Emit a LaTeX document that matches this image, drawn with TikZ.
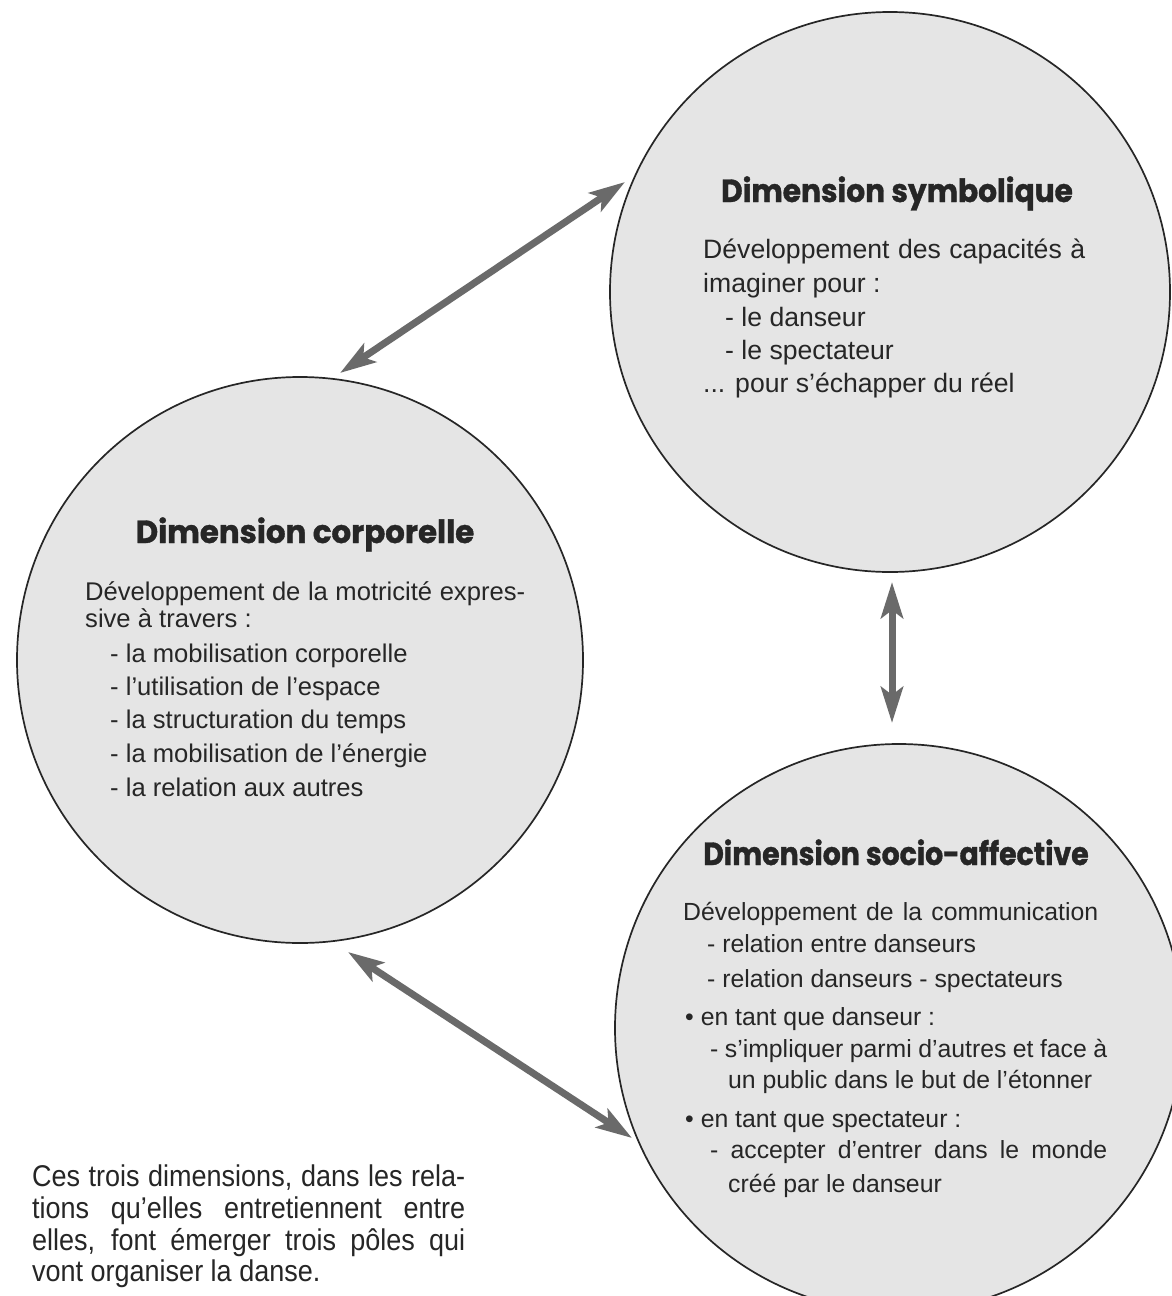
\documentclass[tikz,border=0pt]{standalone}
\usepackage{fontspec}
\setmainfont{Liberation Sans}
\newfontfamily\titlefont{Poppins}[BoldFeatures={FakeBold=1.2}]
\newfontfamily\narrowfont{Liberation Sans}[FakeStretch=0.9]
\usetikzlibrary{arrows.meta}
\definecolor{ink}{HTML}{262626}
\definecolor{discfill}{HTML}{E5E5E5}
\definecolor{arrowgray}{HTML}{6A6A6A}
\begin{document}
\begin{tikzpicture}[x=1pt,y=-1pt,
  disc/.style={circle, draw=ink, line width=1.7pt, fill=discfill, minimum size=#1, inner sep=0pt, outer sep=0pt},
  dimtitle/.style={anchor=base, inner sep=0pt, text=ink, font=\titlefont\bfseries\fontsize{32}{32}\selectfont},
  symbody/.style={anchor=base west, inner sep=0pt, text=ink, font=\fontsize{26.6}{26.6}\selectfont},
  corpbody/.style={anchor=base west, inner sep=0pt, text=ink, font=\fontsize{25.6}{25.6}\selectfont},
  sociobody/.style={anchor=base west, inner sep=0pt, text=ink, font=\fontsize{24.8}{24.8}\selectfont},
  note/.style={anchor=base west, inner sep=0pt, text=ink, font=\narrowfont\fontsize{30}{30}\selectfont},
  link/.style={draw=arrowgray, line width=7pt, {Stealth[length=36pt,width=22pt,inset=8pt]}-{Stealth[length=36pt,width=22pt,inset=8pt]}}
]
\useasboundingbox (0,0) rectangle (1172,1296);
\clip (0,0) rectangle (1172,1296);
\fill[white] (0,0) rectangle (1172,1296);

% circles
\node[disc=560] (sym) at (890,292) {};
\node[disc=566] (corp) at (300,660) {};
\node[disc=568] (socio) at (899,1028) {};

% connectors
\coordinate (a1c) at (340,373);
\coordinate (a1s) at (625,182);
\coordinate (a2s) at (892,582);
\coordinate (a2o) at (892,723);
\coordinate (a3c) at (348,952);
\coordinate (a3o) at (632,1138);
\draw[link] (a1c) -- (a1s);
\draw[link] (a2s) -- (a2o);
\draw[link] (a3c) -- (a3o);

% symbolique
\node[dimtitle] (symT) at (897,202) {\scalebox{0.926}[1]{Dimension symbolique}};
\node[symbody] (s1) at (703,258) {\makebox[382pt][s]{Développement des capacités à}};
\node[symbody] (s2) at (703,292) {imaginer pour :};
\node[symbody] (s3) at (725,326) {- le danseur};
\node[symbody] (s4) at (725,359) {- le spectateur};
\node[symbody] (s5) at (703,392) {... pour s’échapper du réel};

% corporelle
\node[dimtitle] (corpT) at (305,543) {\scalebox{0.963}[1]{Dimension corporelle}};
\node[corpbody] (c1) at (85,600) {\makebox[440pt][s]{Développement de la motricité expres-}};
\node[corpbody] (c2) at (85,627) {sive à travers :};
\node[corpbody] (c3) at (110,662) {- la mobilisation corporelle};
\node[corpbody] (c4) at (110,695) {- l’utilisation de l’espace};
\node[corpbody] (c5) at (110,728) {- la structuration du temps};
\node[corpbody] (c6) at (110,762) {- la mobilisation de l’énergie};
\node[corpbody] (c7) at (110,796) {- la relation aux autres};

% socio-affective
\node[dimtitle] (socioT) at (896,865) {\scalebox{0.884}[1]{Dimension socio-affective}};
\node[sociobody] (p1) at (683,920) {\makebox[415pt][s]{Développement de la communication}};
\node[sociobody] (p2) at (707,952) {- relation entre danseurs};
\node[sociobody] (p3) at (707,987) {- relation danseurs - spectateurs};
\node[sociobody] (p4) at (685,1025) {• en tant que danseur :};
\node[sociobody] (p5) at (710,1057) {\makebox[397pt][s]{- s’impliquer parmi d’autres et face à}};
\node[sociobody] (p6) at (728,1088) {un public dans le but de l’étonner};
\node[sociobody] (p7) at (685,1127) {• en tant que spectateur :};
\node[sociobody] (p8) at (710,1158) {\makebox[397pt][s]{- accepter d’entrer dans le monde}};
\node[sociobody] (p9) at (728,1192) {créé par le danseur};

% note
\node[note] (n1) at (32,1186) {\makebox[433pt][s]{Ces trois dimensions, dans les rela-}};
\node[note] (n2) at (32,1218) {\makebox[433pt][s]{tions qu’elles entretiennent entre}};
\node[note] (n3) at (32,1250) {\makebox[433pt][s]{elles, font émerger trois pôles qui}};
\node[note] (n4) at (32,1281) {vont organiser la danse.};
\end{tikzpicture}
\end{document}
